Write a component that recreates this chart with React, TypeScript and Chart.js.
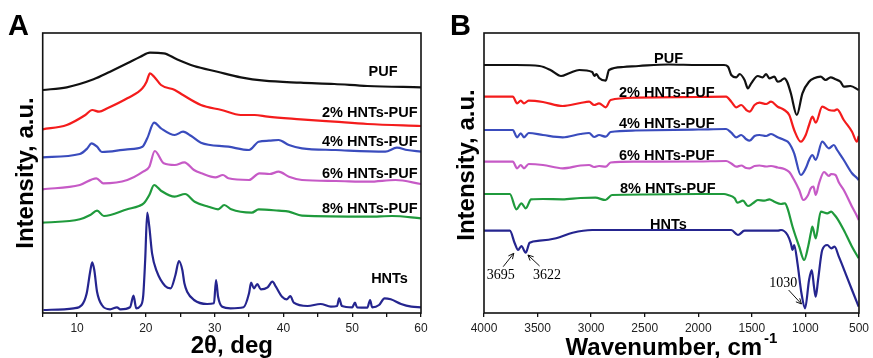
import { useEffect, useRef } from 'react';
import { Chart, registerables } from 'chart.js';

Chart.register(...registerables);

const SANS = "'Liberation Sans', Arial, Helvetica, sans-serif";
const SERIF = "'Liberation Serif', 'Times New Roman', serif";

// ---------- Panel A: XRD (2θ, deg) ----------
const xrdTickLabels = [10, 20, 30, 40, 50, 60];

const xrdPufTheta = [5, 8.5, 12.4, 14.8, 17.3, 19.2, 20.6, 22.6, 24.5, 27, 30.4, 33.8, 37.2, 42.5, 47.4, 52.2, 60];
const xrdPuf = [223, 225.7, 233.7, 241.3, 249.7, 256.3, 260.3, 259.7, 253.7, 247, 241.3, 235.7, 232.3, 230.3, 229, 227, 225.7];

const xrd2Theta = [5, 8.5, 11.2, 12.2, 13.2, 14.4, 17.3, 19.5, 20.1, 20.6, 21.2, 22.2, 24.2, 25.4, 28, 31, 33.8, 35.8, 37.7, 42.5, 47.4, 52.2, 60];
const xrd2 = [183.7, 188, 198, 203, 201.3, 204.7, 214.7, 224.7, 231.3, 239.7, 236.3, 228, 223, 218, 208, 203, 198, 198, 196.3, 193.7, 191.3, 189, 187];

const xrd4Theta = [5, 10.4, 11.5, 12.1, 12.9, 13.6, 17.3, 19.5, 20.2, 21.2, 22.2, 24.2, 25.4, 26.6, 28, 32, 35, 36.4, 37.9, 39.3, 40.8, 42.7, 47.6, 54.8, 56.5, 58, 60];
const xrd4 = [155.7, 159, 164.7, 169.7, 166.3, 161, 163.7, 166.3, 174.7, 190.3, 184.7, 178, 181.3, 177, 170.3, 166.3, 163, 171.3, 172.3, 173, 168, 164.7, 163, 161.3, 165.3, 163, 161.3];

const xrd6Theta = [5, 10.4, 12.8, 13.8, 17.3, 19.6, 20.5, 21.3, 22.6, 24.2, 25.6, 27, 28.1, 30.1, 31.2, 32, 35, 36.5, 38, 39.3, 40.8, 42.7, 47.6, 52.4, 56.3, 60];
const xrd6 = [123.7, 128, 134.7, 129.7, 133, 141.3, 146.3, 162, 149.7, 148, 150.7, 143, 139.7, 135.7, 138, 134.7, 133, 139.7, 139, 141.3, 136.3, 133, 132, 131.3, 133, 129];

const xrd8Theta = [5, 10.4, 11.9, 12.9, 13.9, 17.3, 19, 19.7, 20.5, 21.2, 22.2, 24.2, 25.7, 27.1, 29.1, 30.5, 31.4, 32.4, 35.4, 36.4, 39.3, 40.8, 42.7, 52.4, 55.8, 60];
const xrd8 = [90.3, 93.7, 98, 102.3, 97, 103.7, 107, 109.7, 118, 128, 122.3, 116.3, 119, 111.3, 106.3, 103.7, 108, 103.7, 100.3, 103.7, 102.3, 101.3, 97.3, 96.3, 97, 94.7];

const xrdHntTheta = [5.1, 9.5, 10.7, 11.4, 11.9, 12.2, 12.5, 12.9, 13.6, 14.8, 15.8, 16.3, 17.7, 18.2, 18.6, 19.2, 19.6, 19.9, 20.2, 20.5, 20.9, 21.6, 22.8, 23.6, 24.3, 24.8, 25.3, 25.6, 26, 27, 28.9, 29.9, 30.2, 30.5, 31.1, 32.3, 34.2, 35, 35.3, 35.7, 36.2, 36.7, 37.7, 38.4, 38.9, 39.8, 40.5, 41, 41.5, 43.5, 45.4, 46.9, 47.8, 48.1, 48.5, 50, 50.4, 50.7, 52.2, 52.6, 52.9, 53.9, 54.7, 55.6, 57.1, 58.6, 60];
const xrdHnt = [3, 4.7, 8, 19.7, 41.3, 50.7, 43, 21.3, 8, 3.7, 5.7, 3.7, 5.7, 17.3, 4.7, 7, 16.3, 53, 100.3, 86.3, 59.7, 41.3, 27, 24.7, 38, 52, 43, 29.7, 21.3, 13, 9, 9.7, 33, 16.3, 6.3, 4.7, 5.7, 19.7, 30.3, 24.7, 29, 23.7, 25.7, 31.3, 26.3, 16.3, 13.7, 17, 10.3, 7, 9, 6.3, 7, 14.7, 7, 5.7, 10.3, 5.7, 5.3, 13, 5.7, 8, 14.7, 13.7, 9, 6.3, 5.7];

// ---------- Panel B: FTIR (wavenumber, cm-1) ----------
const ftirTickLabels = [4000, 3500, 3000, 2500, 2000, 1500, 1000, 500];

const ftirPufWn = [4000, 3700, 3481, 3380, 3281, 3200, 3111, 2990, 2970, 2950, 2926, 2864, 2833, 2700, 2555, 2278, 2000, 1760, 1722, 1692, 1645, 1614, 1568, 1537, 1506, 1444, 1398, 1367, 1336, 1290, 1259, 1228, 1197, 1167, 1136, 1080, 1028, 966, 920, 858, 811, 765, 719, 673, 642, 580, 503];
const ftirPuf = [248, 248, 247, 243, 237, 240, 243, 241, 237, 239, 235, 232.3, 243, 246, 247, 248.5, 248, 248, 246.3, 238, 235.7, 239, 233, 224.7, 229.7, 237, 235.7, 239, 234.7, 236.3, 231.3, 232.3, 234.7, 230.3, 219.7, 198, 219.7, 231.3, 234.7, 236.3, 233, 235.7, 233.7, 231.3, 226.3, 227, 223];

const ftir2Wn = [4000, 3731, 3691, 3657, 3627, 3583, 3450, 3266, 3100, 3019, 2972, 2926, 2864, 2818, 2586, 2000, 1740, 1692, 1645, 1599, 1552, 1521, 1475, 1429, 1367, 1321, 1259, 1197, 1151, 1105, 1043, 997, 966, 935, 904, 843, 781, 734, 704, 642, 565, 519, 503];
const ftir2 = [216.3, 216.3, 209.7, 212.3, 209.7, 212.3, 211, 207, 210, 211.3, 208, 209.7, 205.7, 213, 215.3, 216, 216.3, 211.3, 205.7, 208, 203, 201.3, 208, 210.3, 209, 211.3, 206.3, 203, 198, 183, 171.3, 178, 188, 196.3, 190.3, 206.3, 203, 202.3, 203.7, 193, 181.3, 171.3, 177];

const ftir4Wn = [4000, 3731, 3691, 3657, 3627, 3583, 3450, 3266, 3100, 3019, 2972, 2926, 2864, 2818, 2586, 2000, 1740, 1692, 1645, 1599, 1552, 1521, 1475, 1429, 1367, 1321, 1259, 1197, 1151, 1105, 1043, 997, 966, 935, 904, 843, 781, 734, 704, 642, 565, 519, 503];
const ftir4 = [183, 183, 175.7, 179.7, 175.7, 180, 178, 175.7, 179, 180, 176, 178, 176.3, 181, 182.5, 183.5, 184, 180.3, 175.7, 178, 173.7, 172.3, 177, 178, 177, 179, 175.7, 173, 169.7, 159.7, 138, 144.7, 153, 158, 153, 171.3, 164.7, 168, 163, 153, 139.7, 135, 133];

const ftir6Wn = [4000, 3731, 3691, 3657, 3627, 3583, 3450, 3266, 3100, 3019, 2972, 2926, 2864, 2818, 2586, 2000, 1740, 1692, 1645, 1599, 1552, 1521, 1475, 1429, 1367, 1321, 1259, 1197, 1151, 1105, 1058, 1019, 975, 950, 925, 904, 873, 826, 781, 760, 719, 690, 642, 565, 519, 503];
const ftir6 = [151.3, 151.3, 144.7, 148, 144.7, 149, 148, 144.7, 147.5, 148, 146, 147, 146.3, 150.5, 151.3, 151.5, 152, 149.5, 146.3, 147.5, 145, 144.7, 147, 147.5, 146.5, 147, 145.5, 144, 141, 133, 123, 113, 118, 124.7, 126.3, 118, 129.7, 141, 137, 139, 138, 131, 123, 106.3, 97, 93];

const ftir8Wn = [4000, 3759, 3697, 3651, 3611, 3560, 3450, 3268, 3100, 2960, 2867, 2805, 2500, 2000, 1760, 1722, 1660, 1636, 1583, 1537, 1490, 1444, 1383, 1336, 1290, 1228, 1191, 1167, 1120, 1058, 1012, 975, 950, 935, 904, 857, 796, 759, 728, 704, 642, 565, 503];
const ftir8 = [119, 119, 103.7, 109.7, 104.7, 113.7, 114, 113.7, 115, 115.3, 113, 118, 118.5, 119, 119, 118, 114.7, 110.3, 112.3, 107, 109.7, 113, 112.3, 113.7, 111.3, 109, 109.7, 104.7, 86.3, 66.3, 53, 66.3, 79.7, 86.3, 74.7, 101.3, 99.7, 101.3, 98, 94.7, 83, 66.3, 54.7];

const ftirHntWn = [4000, 3759, 3713, 3682, 3651, 3611, 3574, 3481, 3327, 3173, 2990, 2500, 2000, 1692, 1630, 1568, 1259, 1228, 1167, 1136, 1120, 1105, 1074, 1037, 1003, 966, 941, 920, 904, 882, 843, 796, 759, 728, 688, 626, 565, 503];
const ftirHnt = [82.3, 82.3, 69.7, 63, 67, 60.3, 70.3, 72.3, 74.7, 80.3, 83, 83, 83, 83, 78, 82.3, 82.3, 83, 78, 69.7, 63, 68, 49.7, 19.7, 4.7, 33, 43, 26.3, 16.3, 33, 63, 68, 64.7, 66.3, 56.3, 39.7, 23, 6.3];

const seriesNames = ['PUF', '2% HNTs-PUF', '4% HNTs-PUF', '6% HNTs-PUF', '8% HNTs-PUF', 'HNTs'];
const seriesColors = ['#111111', '#f41c1c', '#3a4cbd', '#c65ac6', '#1f9a3c', '#25258f'];

// label anchors in data units (x, y) for each series
const xrdLabelX = [56.6, 59.5, 59.5, 59.5, 59.5, 58.1];
const xrdLabelY = [237, 196.3, 167.3, 135.5, 99.7, 29.7];
const ftirLabelX = [2278, 2294, 2294, 2294, 2285, 2278];
const ftirLabelY = [249.7, 216.3, 185.3, 153, 120.3, 83.7];

const ftirPeakNames = ['3695', '3622', '1030'];
const ftirPeakTextX = [3844, 3412, 1208];
const ftirPeakTextY = [33.7, 33.7, 25.7];
const ftirArrowFromX = [3821, 3481, 1157];
const ftirArrowFromY = [46.3, 47, 23];
const ftirArrowToX = [3722, 3590, 1037];
const ftirArrowToY = [59.7, 58, 9];

function pts(xs: number[], ys: number[]) {
  return xs.map((x, i) => ({ x, y: ys[i] }));
}

function drawArrow(ctx: CanvasRenderingContext2D, x1: number, y1: number, x2: number, y2: number) {
  const a = Math.atan2(y2 - y1, x2 - x1);
  const h = 6;
  ctx.save();
  ctx.strokeStyle = '#111';
  ctx.lineWidth = 1;
  ctx.beginPath();
  ctx.moveTo(x1, y1);
  ctx.lineTo(x2, y2);
  ctx.moveTo(x2 - h * Math.cos(a - 0.45), y2 - h * Math.sin(a - 0.45));
  ctx.lineTo(x2, y2);
  ctx.lineTo(x2 - h * Math.cos(a + 0.45), y2 - h * Math.sin(a + 0.45));
  ctx.stroke();
  ctx.restore();
}

function frame(chart: any) {
  const { ctx, chartArea: c } = chart;
  ctx.save();
  ctx.strokeStyle = '#111';
  ctx.lineWidth = 1.6;
  ctx.strokeRect(c.left, c.top, c.right - c.left, c.bottom - c.top);
  ctx.restore();
}

function makeDatasets(xsList: number[][], ysList: number[][]) {
  return xsList.map((xs, i) => ({
    label: seriesNames[i],
    data: pts(xs, ysList[i]),
    borderColor: seriesColors[i],
    backgroundColor: seriesColors[i],
    borderWidth: 2.2,
    pointRadius: 0,
    fill: false,
    cubicInterpolationMode: 'monotone' as const,
  }));
}

function baseOptions(padRight: number, yWidth: number, yTitlePad: number, showYTitle: boolean, xCfg: any) {
  return {
    responsive: false,
    animation: false as const,
    devicePixelRatio: 1,
    events: [] as any[],
    layout: { padding: { top: 33, right: padRight, left: 0, bottom: 0 } },
    plugins: { legend: { display: false }, tooltip: { enabled: false } },
    scales: {
      x: xCfg,
      y: {
        type: 'linear' as const,
        min: 0,
        max: 280,
        ticks: { display: false },
        grid: { display: false },
        border: { display: false },
        title: {
          display: showYTitle,
          text: 'Intensity, a.u.',
          color: '#000',
          font: { family: SANS, size: 24, weight: 'bold' as const, lineHeight: 1 },
          padding: { top: yTitlePad, bottom: 0 },
        },
        afterFit: (s: any) => { s.width = yWidth; },
      },
    },
  };
}

function xAxis(min: number, max: number, step: number, labels: number[], reverse: boolean, title: string | null) {
  return {
    type: 'linear' as const,
    min,
    max,
    reverse,
    ticks: {
      stepSize: step,
      autoSkip: false,
      padding: 4,
      color: '#222',
      font: { family: SANS, size: 12 },
      callback: (v: any) => (labels.includes(Number(v)) ? String(v) : ''),
    },
    grid: { display: true, drawOnChartArea: false, drawTicks: true, tickLength: 4, color: '#111', lineWidth: 1.3 },
    border: { display: false },
    title: {
      display: title !== null,
      text: title || '',
      color: '#000',
      font: { family: SANS, size: 24, weight: 'bold' as const, lineHeight: 1 },
      padding: { top: 0, bottom: 0 },
    },
    afterFit: (s: any) => { s.height = 45; },
  };
}

export default function App() {
  const refA = useRef<HTMLCanvasElement>(null);
  const refB = useRef<HTMLCanvasElement>(null);

  useEffect(() => {
    const overlayA = {
      id: 'overlayA',
      afterDraw(chart: any) {
        frame(chart);
        const { ctx, scales } = chart;
        ctx.save();
        ctx.fillStyle = '#000';
        ctx.textBaseline = 'alphabetic';
        ctx.font = `bold 14.5px ${SANS}`;
        ctx.textAlign = 'right';
        seriesNames.forEach((n, i) => {
          ctx.fillText(n, scales.x.getPixelForValue(xrdLabelX[i]), scales.y.getPixelForValue(xrdLabelY[i]));
        });
        ctx.font = `bold 29px ${SANS}`;
        ctx.textAlign = 'left';
        ctx.fillText('A', 8, 35);
        ctx.restore();
      },
    };

    const overlayB = {
      id: 'overlayB',
      afterDraw(chart: any) {
        frame(chart);
        const { ctx, scales, chartArea } = chart;
        ctx.save();
        ctx.fillStyle = '#000';
        ctx.textBaseline = 'alphabetic';
        ctx.font = `bold 14.5px ${SANS}`;
        ctx.textAlign = 'center';
        seriesNames.forEach((n, i) => {
          ctx.fillText(n, scales.x.getPixelForValue(ftirLabelX[i]), scales.y.getPixelForValue(ftirLabelY[i]));
        });
        ctx.font = `14px ${SERIF}`;
        ftirPeakNames.forEach((n, i) => {
          ctx.fillText(n, scales.x.getPixelForValue(ftirPeakTextX[i]), scales.y.getPixelForValue(ftirPeakTextY[i]));
          drawArrow(
            ctx,
            scales.x.getPixelForValue(ftirArrowFromX[i]),
            scales.y.getPixelForValue(ftirArrowFromY[i]),
            scales.x.getPixelForValue(ftirArrowToX[i]),
            scales.y.getPixelForValue(ftirArrowToY[i])
          );
        });
        // x-axis title with superscript
        const main = 'Wavenumber, cm';
        const sup = '-1';
        ctx.font = `bold 24px ${SANS}`;
        const wMain = ctx.measureText(main).width;
        ctx.font = `bold 15px ${SANS}`;
        const wSup = ctx.measureText(sup).width;
        const total = wMain + 2 + wSup;
        const cx = (chartArea.left + chartArea.right) / 2;
        const x0 = cx - total / 2;
        ctx.textAlign = 'left';
        ctx.font = `bold 24px ${SANS}`;
        ctx.fillText(main, x0, 355);
        ctx.font = `bold 15px ${SANS}`;
        ctx.fillText(sup, x0 + wMain + 2, 343);
        ctx.font = `bold 29px ${SANS}`;
        ctx.fillText('B', 14, 35);
        // y-axis title (sits slightly above the axis centre in the original)
        ctx.save();
        ctx.translate(31.5, 165);
        ctx.rotate(-Math.PI / 2);
        ctx.textAlign = 'center';
        ctx.textBaseline = 'middle';
        ctx.font = `bold 24px ${SANS}`;
        ctx.fillText('Intensity, a.u.', 0, 0);
        ctx.restore();
        ctx.restore();
      },
    };

    const chartA = new Chart(refA.current as HTMLCanvasElement, {
      type: 'line',
      data: {
        datasets: makeDatasets(
          [xrdPufTheta, xrd2Theta, xrd4Theta, xrd6Theta, xrd8Theta, xrdHntTheta],
          [xrdPuf, xrd2, xrd4, xrd6, xrd8, xrdHnt]
        ),
      },
      options: baseOptions(15, 42.7, 14.7, true, xAxis(5, 60, 5, xrdTickLabels, false, '2θ, deg')) as any,
      plugins: [overlayA],
    });

    const chartB = new Chart(refB.current as HTMLCanvasElement, {
      type: 'line',
      data: {
        datasets: makeDatasets(
          [ftirPufWn, ftir2Wn, ftir4Wn, ftir6Wn, ftir8Wn, ftirHntWn],
          [ftirPuf, ftir2, ftir4, ftir6, ftir8, ftirHnt]
        ),
      },
      options: baseOptions(11, 48, 19.5, false, xAxis(500, 4000, 500, ftirTickLabels, true, null)) as any,
      plugins: [overlayB],
    });

    return () => {
      chartA.destroy();
      chartB.destroy();
    };
  }, []);

  return (
    <div style={{ position: 'absolute', left: 0, top: 0, width: 873, height: 358, background: '#fff' }}>
      <canvas ref={refA} width={436} height={358} style={{ position: 'absolute', left: 0, top: 0, width: 436, height: 358 }} />
      <canvas ref={refB} width={437} height={358} style={{ position: 'absolute', left: 436, top: 0, width: 437, height: 358 }} />
    </div>
  );
}
